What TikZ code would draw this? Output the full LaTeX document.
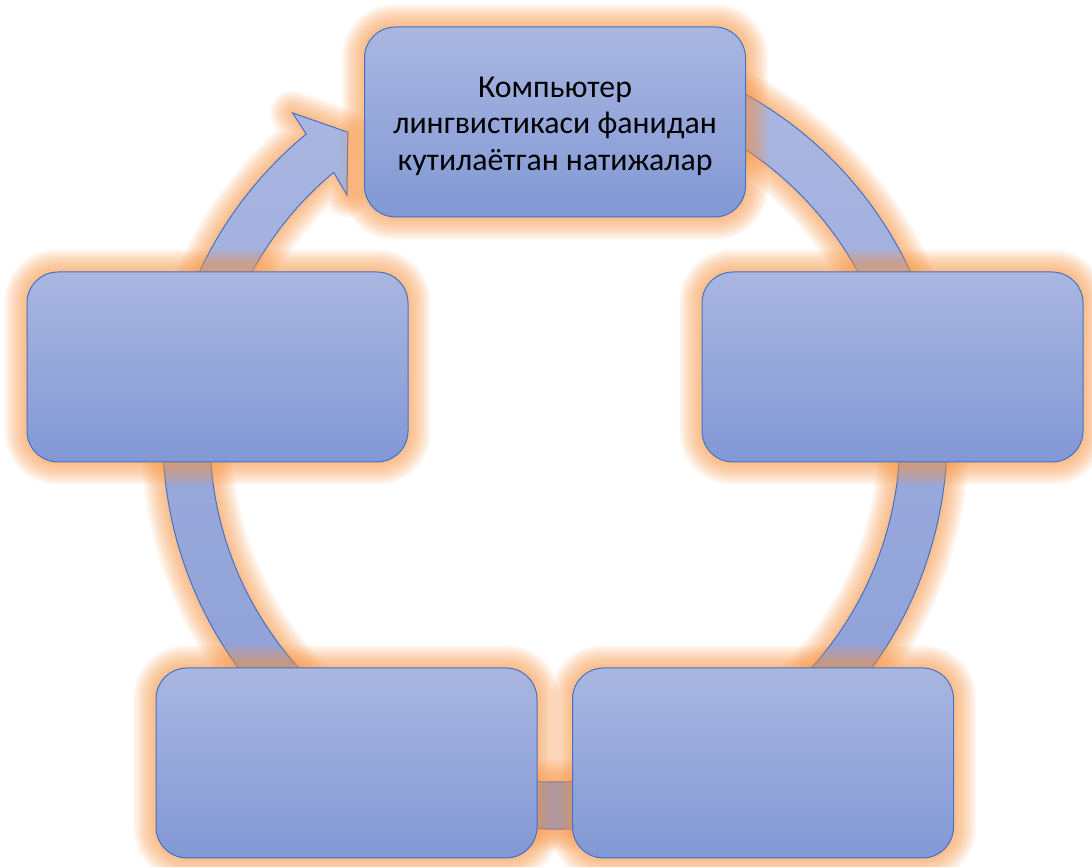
\documentclass[tikz,border=0pt]{standalone}
\usepackage{fontspec}
\setmainfont{Carlito}
\pgfdeclarelayer{bg}
\pgfsetlayers{bg,main}
\definecolor{glowc}{RGB}{247,150,70}
\definecolor{edgec}{RGB}{68,114,196}
\definecolor{boxtop}{RGB}{169,182,224}
\definecolor{boxbot}{RGB}{130,152,213}
\definecolor{ringtop}{RGB}{172,184,226}
\definecolor{ringbot}{RGB}{134,154,213}
\begin{document}
\begin{tikzpicture}[x=1pt,y=1pt,
  cyclebox/.style={rectangle, rounded corners=31pt, minimum width=381pt,
    minimum height=190pt, draw=edgec, line width=1pt, top color=boxtop,
    bottom color=boxbot, inner sep=0pt, align=center,
    font=\fontsize{31.8}{36.5}\selectfont},
  glowline/.style={draw=glowc, draw opacity=0.075, line width=#1, line join=round}
]
\useasboundingbox (0,0) rectangle (1092,867);
% boxes
\node[cyclebox] (top) at (555,745) {};
\node[cyclebox] (left) at (217.5,500) {};
\node[cyclebox] (right) at (892.5,500) {};
\node[cyclebox] (bl) at (346.5,104) {};
\node[cyclebox] (br) at (763,104) {};
\node[align=center, font=\fontsize{31.8}{36.5}\selectfont, inner sep=0pt]
  (toptext) at ([yshift=-4pt]top.center) {Компьютер\\лингвистикаси фанидан\\кутилаётган натижалар};
\coordinate (c) at (555,430);
\begin{pgfonlayer}{bg}
  % ring glow
  \foreach \k in {1,...,12}{
    \draw[glowline=3.7*\k pt]
      ([shift={(75:392)}]c) arc[start angle=75, end angle=-230.6, radius=392]
      -- ([shift={(129.0:417)}]c) -- ([shift={(124.2:368.5)}]c)
      -- ([shift={(130.7:319)}]c) -- ([shift={(129.9:345)}]c)
      arc[start angle=-230.1, end angle=75, radius=345] -- cycle;
  }
  % ring
  \path[draw=edgec, line width=1pt, top color=ringtop, bottom color=ringbot, line join=miter]
      ([shift={(75:392)}]c) arc[start angle=75, end angle=-230.6, radius=392]
      -- ([shift={(129.0:417)}]c) -- ([shift={(124.2:368.5)}]c)
      -- ([shift={(130.7:319)}]c) -- ([shift={(129.9:345)}]c)
      arc[start angle=-230.1, end angle=75, radius=345] -- cycle;
  % box glows
  \foreach \n in {top,left,right,bl,br}{
    \foreach \k in {1,...,12}{
      \draw[glowline=3.7*\k pt, rounded corners=31pt]
        (\n.south west) rectangle (\n.north east);
    }
  }
\end{pgfonlayer}
\end{tikzpicture}
\end{document}
